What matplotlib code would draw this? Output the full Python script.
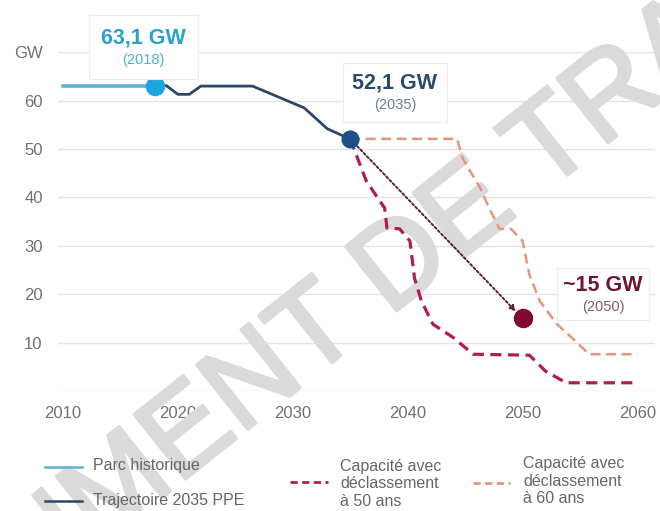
import numpy as np
import matplotlib.pyplot as plt
import matplotlib.patheffects as pe
from matplotlib.lines import Line2D
from matplotlib.offsetbox import TextArea, VPacker, AnnotationBbox

plt.rcParams['font.family'] = ['Liberation Sans', 'DejaVu Sans']

# Parc nucléaire installé (GW)
annees_hist = [2010, 2018]
cap_hist = [63.1, 63.1]

annees_ppe = [2018, 2019, 2020, 2021, 2022, 2026.5, 2031, 2033, 2034.3, 2035]
cap_ppe = [63.1, 63.1, 61.3, 61.3, 63.0, 63.0, 58.5, 54.2, 52.8, 52.1]

annees_50 = [2035, 2035.4, 2036.4, 2038, 2038.2, 2039.3, 2040.2, 2040.6, 2041.2,
             2042.2, 2044, 2045.7, 2050.6, 2052, 2053.8, 2060]
cap_50 = [52.1, 49.6, 43.4, 37.8, 33.7, 33.5, 31.0, 23.3, 18.6,
          13.8, 11.0, 7.6, 7.4, 4.1, 1.7, 1.7]

annees_60 = [2035, 2044.3, 2044.8, 2046.3, 2047.1, 2048, 2049, 2050, 2050.6,
             2051.5, 2053, 2054.3, 2055.8, 2060]
cap_60 = [52.1, 52.1, 48.0, 42.0, 37.8, 33.5, 33.5, 31.0, 24.0,
          18.6, 13.8, 11.0, 7.6, 7.6]

# points remarquables : (annee, GW)
p_2018 = (2018, 63.1)
p_2035 = (2035, 52.1)
p_2050 = (2050, 15)

c_hist = '#5eb0d9'
c_ppe = '#2d4767'
c_50 = '#b11d4d'
c_60 = '#e3957f'
c_texte = '#707070'
c_gris = '#dadada'

fig = plt.figure(figsize=(6.6, 5.11), dpi=100)
ax = fig.add_axes([0.0879, 0.2348, 0.904, 0.663])

ax.set_xlim(2009.57, 2061.5)
ax.set_ylim(0, 70)
for s in ax.spines.values():
    s.set_visible(False)
ax.set_yticks(range(0, 71, 10))
ax.set_yticklabels(['', '10', '20', '30', '40', '50', '60', 'GW'])
ax.set_xticks(range(2010, 2061, 10))
ax.tick_params(length=0, labelsize=12, colors=c_texte)
ax.tick_params(axis='y', pad=11)
ax.tick_params(axis='x', pad=11)
ax.grid(axis='y', color='#e4e4e4', lw=1)
ax.set_axisbelow(True)

# filigrane
ax.text(0.535, 0.40, 'DOCUMENT DE TRAVAIL', transform=fig.transFigure,
        rotation=38.5, fontsize=86, color=c_gris, ha='center', va='center',
        clip_on=False, zorder=1.5,
        path_effects=[pe.withStroke(linewidth=2.5, foreground=c_gris)])

ax.plot(annees_hist, cap_hist, color=c_hist, lw=2.6, zorder=3)
ax.plot(annees_ppe, cap_ppe, color=c_ppe, lw=2, zorder=3)
ax.plot(annees_60, cap_60, color=c_60, lw=1.8, dashes=(4, 2.2), zorder=3)
ax.plot(annees_50, cap_50, color=c_50, lw=2.3, dashes=(3.5, 2), zorder=3)

ax.annotate('', xy=p_2050, xytext=p_2035,
            arrowprops=dict(arrowstyle='-|>', color='#5b1a36', lw=1.4,
                            linestyle=(0, (1.2, 1.2)), shrinkA=4, shrinkB=7,
                            mutation_scale=8), zorder=4)

ax.plot(*p_2018, 'o', ms=13, color='#1ba4dd', zorder=5, clip_on=False)
ax.plot(*p_2035, 'o', ms=12, color='#1e4f86', zorder=5, clip_on=False)
ax.plot(*p_2050, 'o', ms=13, color='#7e0b2f', zorder=5, clip_on=False)

def etiquette(x, y, val, an, c1, c2, pad):
    t1 = TextArea(val, textprops=dict(color=c1, fontsize=15.5, fontweight='bold'))
    t2 = TextArea(an, textprops=dict(color=c2, fontsize=10.5))
    pack = VPacker(children=[t1, t2], align='center', pad=0, sep=3)
    ab = AnnotationBbox(pack, (x, y), frameon=True, pad=pad, box_alignment=(0.5, 0.5),
                        annotation_clip=False,
                        bboxprops=dict(fc='white', ec='#ececec', lw=0.8))
    ab.set_zorder(6)
    ax.add_artist(ab)

etiquette(2017.0, 71.0, '63,1 GW', '(2018)', '#27a3c9', '#4cb3d4', 0.9)
etiquette(2038.9, 61.7, '52,1 GW', '(2035)', '#2c4a6b', '#6a7f95', 0.7)
etiquette(2057.0, 20.0, '~15 GW', '(2050)', '#6b1533', '#8a5a6a', 0.45)

# légende
def trait(x0, x1, y, **kw):
    fig.add_artist(Line2D([x0 / 660, x1 / 660], [1 - y / 511, 1 - y / 511],
                          transform=fig.transFigure, **kw))

trait(45, 82, 467, color=c_hist, lw=1.8)
trait(45, 82, 501, color=c_ppe, lw=1.8)
trait(290, 328, 482, color=c_50, lw=2, dashes=(2.6, 1.6))
trait(473, 510, 483, color=c_60, lw=2, dashes=(2.6, 1.6))

kw = dict(fontsize=11.5, color='#666666', va='center', linespacing=1.2)
fig.text(93 / 660, 1 - 465 / 511, 'Parc historique', **kw)
fig.text(93 / 660, 1 - 500 / 511, 'Trajectoire 2035 PPE', **kw)
fig.text(340 / 660, 1 - 484 / 511, 'Capacité avec\ndéclassement\nà 50 ans', **kw)
fig.text(523 / 660, 1 - 481 / 511, 'Capacité avec\ndéclassement\nà 60 ans', **kw)

fig.savefig('out.png', dpi=100)
